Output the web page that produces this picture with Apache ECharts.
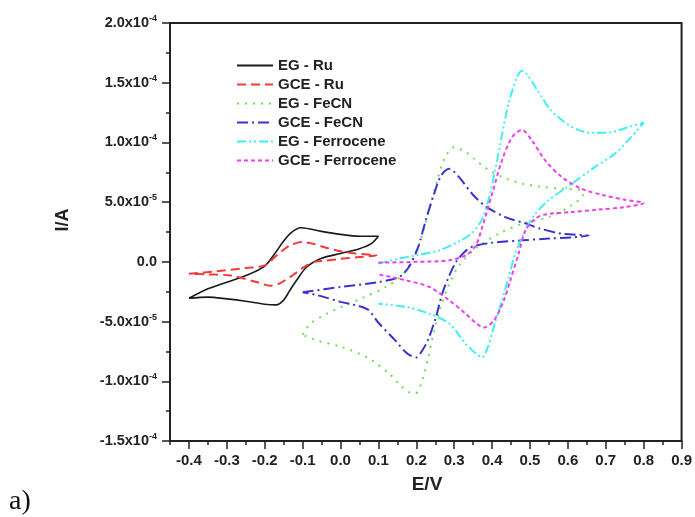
<!DOCTYPE html>
<html><head><meta charset="utf-8">
<script src="https://cdn.jsdelivr.net/npm/echarts@6/dist/echarts.min.js"></script>
<style>html,body{margin:0;padding:0;background:#fff}#c{width:695px;height:517px}</style>
</head><body><div id="c"></div>
<script>
// Potential E (V) and current I (in units of 1e-5 A)
const seriesNames = ['EG - Ru','GCE - Ru','EG - FeCN','GCE - FeCN','EG - Ferrocene','GCE - Ferrocene'];

const egRuE = [-0.40,-0.35,-0.30,-0.25,-0.20,-0.17,-0.15,-0.13,-0.105,-0.08,-0.05,0.00,0.05,0.10, 0.08,0.05,0.00,-0.05,-0.09,-0.115,-0.135,-0.15,-0.17,-0.20,-0.25,-0.30,-0.35,-0.40];
const egRuI = [-3.05,-2.25,-1.7,-1.15,-0.35,0.85,1.75,2.45,2.85,2.75,2.55,2.3,2.15,2.15, 1.5,1.1,0.7,0.3,-0.45,-1.5,-2.45,-3.2,-3.6,-3.55,-3.3,-3.1,-2.95,-3.05];

const gceRuE = [-0.40,-0.33,-0.25,-0.20,-0.17,-0.135,-0.10,-0.07,-0.045,0.00,0.04,0.095, 0.05,0.00,-0.04,-0.07,-0.10,-0.125,-0.16,-0.185,-0.22,-0.29,-0.35,-0.40];
const gceRuI = [-1.0,-0.8,-0.52,-0.3,0.5,1.35,1.66,1.5,1.25,0.88,0.69,0.54, 0.4,0.25,0.1,0.0,-0.5,-1.1,-1.8,-2.0,-1.7,-1.15,-1.05,-1.0];

const egFeCNE = [-0.10,-0.08,-0.04,0.00,0.06,0.12,0.16,0.19,0.215,0.235,0.255,0.275,0.30,0.33,0.35,0.39,0.435,0.48,0.525,0.59,0.635,0.64, 0.61,0.55,0.48,0.42,0.36,0.315,0.285,0.262,0.245,0.23,0.215,0.198,0.18,0.16,0.13,0.07,0.00,-0.06,-0.10];
const egFeCNI = [-6.1,-5.2,-4.4,-3.8,-3.0,-2.1,-1.2,0.2,2.2,4.5,6.8,8.7,9.6,9.2,8.7,7.7,7.0,6.55,6.3,6.1,6.0,5.6, 4.75,3.75,3.2,2.4,1.2,-0.2,-2.0,-4.0,-6.0,-8.2,-10.0,-11.0,-10.9,-10.4,-9.4,-8.0,-7.1,-6.6,-6.1];

const gceFeCNE = [-0.10,0.00,0.10,0.155,0.18,0.205,0.225,0.245,0.265,0.287,0.31,0.35,0.385,0.435,0.49,0.525,0.585,0.655, 0.61,0.55,0.48,0.40,0.35,0.33,0.305,0.285,0.268,0.252,0.23,0.21,0.20,0.185,0.17,0.145,0.10,0.07,0.00,-0.06,-0.10];
const gceFeCNI = [-2.55,-2.1,-1.7,-1.25,-0.45,1.25,3.5,5.5,7.2,7.8,7.2,5.6,4.6,3.75,3.2,2.8,2.35,2.2, 2.05,1.95,1.8,1.6,1.3,0.9,0.0,-1.3,-2.7,-4.6,-6.6,-7.7,-8.0,-7.85,-7.5,-6.6,-5.1,-3.95,-3.35,-2.8,-2.55];

const egFcE = [0.10,0.155,0.20,0.26,0.31,0.345,0.372,0.39,0.408,0.425,0.443,0.465,0.479,0.492,0.52,0.555,0.61,0.663,0.715,0.76,0.80, 0.767,0.724,0.671,0.61,0.549,0.514,0.488,0.461,0.444,0.426,0.405,0.388,0.374,0.36,0.33,0.287,0.234,0.173,0.10];
const egFcI = [-0.15,0.27,0.55,0.96,1.66,2.36,3.47,5.15,7.66,10.44,13.2,15.4,16.0,15.7,14.35,12.7,11.3,10.8,10.85,11.3,11.65, 10.44,9.06,7.93,6.54,5.15,4.03,2.64,0.69,-1.27,-3.22,-5.4,-7.2,-8.0,-7.75,-6.85,-5.17,-4.34,-3.78,-3.5];

const gceFcE = [0.10,0.20,0.287,0.33,0.357,0.374,0.40,0.426,0.453,0.479,0.505,0.54,0.584,0.636,0.697,0.75,0.80, 0.75,0.68,0.61,0.54,0.514,0.488,0.47,0.448,0.431,0.405,0.378,0.36,0.33,0.287,0.234,0.173,0.10];
const gceFcI = [-0.07,0.0,0.13,0.54,1.38,2.92,5.7,8.5,10.44,11.05,10.17,8.5,7.1,6.12,5.56,5.2,4.92, 4.59,4.37,4.17,3.97,3.61,2.64,0.69,-1.55,-3.22,-4.9,-5.5,-5.2,-4.34,-3.22,-2.1,-1.55,-1.05];

const xTickLabels = ['-0.4','-0.3','-0.2','-0.1','0.0','0.1','0.2','0.3','0.4','0.5','0.6','0.7','0.8','0.9'];
const yTickBase = ['-1.5x10','-1.0x10','-5.0x10','0.0','5.0x10','1.0x10','1.5x10','2.0x10'];
const yTickExp  = ['-4','-4','-5','','-5','-4','-4','-4'];

const colors = ['#1a1a1a','#f23a3a','#72dc50','#3a32d0','#3ff0f0','#ee3fee'];
const dashes = ['solid',[9,5],[2,6],[11,4,2,4],[9,3,2,3,2,3],[4,3]];
const widths = [1.6,2,2,2,2,2];

const pairs = [[egRuE,egRuI],[gceRuE,gceRuI],[egFeCNE,egFeCNI],[gceFeCNE,gceFeCNI],[egFcE,egFcI],[gceFcE,gceFcI]];

const FONT = 'Liberation Sans, Arial, sans-serif';
const chart = echarts.init(document.getElementById('c'));
chart.setOption({
  backgroundColor:'#fff',
  animation:false,
  grid:{left:170,right:11,top:23,bottom:76,show:true,borderColor:'#222',borderWidth:2,backgroundColor:'transparent'},
  legend:{
    orient:'vertical', left:236, top:58, padding:0, itemWidth:36, itemHeight:10, itemGap:4,
    data:seriesNames,
    itemStyle:{opacity:0,color:'transparent',borderWidth:0},
    textStyle:{fontSize:15,fontWeight:'bold',color:'#222',fontFamily:FONT}
  },
  xAxis:[
    {type:'value',min:-0.45,max:0.9,interval:0.05,position:'bottom',
     axisLine:{show:true,onZero:false,lineStyle:{color:'#222',width:2}},
     axisTick:{show:true,length:4,lineStyle:{color:'#222',width:1.5}},
     axisLabel:{show:false},splitLine:{show:false}},
    {type:'value',min:-0.45,max:0.9,splitNumber:13,position:'bottom',
     axisLine:{show:false,onZero:false},
     axisTick:{show:true,length:8,lineStyle:{color:'#222',width:1.5}},
     axisLabel:{show:true,margin:12,fontSize:15,fontWeight:'bold',color:'#222',fontFamily:FONT,showMinLabel:false,
       formatter:function(v){const i=Math.round((v+0.4)/0.1);return (i>=0&&i<xTickLabels.length)?xTickLabels[i]:'';}},
     splitLine:{show:false}}
  ],
  yAxis:{type:'value',min:-15,max:20,interval:5,
    axisLine:{show:true,onZero:false,lineStyle:{color:'#222',width:2}},
    axisTick:{show:true,length:8,lineStyle:{color:'#222',width:1.5}},
    minorTick:{show:true,splitNumber:2,length:4,lineStyle:{color:'#222',width:1.5}},
    splitLine:{show:false},
    axisLabel:{margin:13,color:'#222',
      formatter:function(v){const i=Math.round((v+15)/5);const b=yTickBase[i],e=yTickExp[i];return e?'{m|'+b+'}{s|'+e+'}':'{m|'+b+'}';},
      rich:{m:{fontSize:14.5,fontWeight:'bold',color:'#222',fontFamily:FONT,lineHeight:18},
            s:{fontSize:9,fontWeight:'bold',color:'#222',fontFamily:FONT,verticalAlign:'top',lineHeight:10}}}
  },
  graphic:[
    {type:'text',x:63,y:220,rotation:Math.PI/2,style:{text:'I/A',fontSize:18,fontWeight:'bold',fontFamily:FONT,fill:'#222',textAlign:'center',textVerticalAlign:'middle'}},
    {type:'text',x:427,y:485,style:{text:'E/V',fontSize:19,fontWeight:'bold',fontFamily:FONT,fill:'#222',textAlign:'center',textVerticalAlign:'middle'}},
    {type:'text',x:9,y:502,style:{text:'a)',fontSize:28,fontFamily:'Liberation Serif, Times New Roman, serif',fill:'#111',textAlign:'left',textVerticalAlign:'middle'}}
  ],
  series: pairs.map(function(p,k){
    return {name:seriesNames[k],type:'line',xAxisIndex:0,yAxisIndex:0,
      data:p[0].map(function(e,j){return [e,p[1][j]];}),
      showSymbol:false,symbol:'none',smooth:0.3,
      lineStyle:{color:colors[k],width:widths[k],type:dashes[k]},
      itemStyle:{color:colors[k]}};
  })
});
</script></body></html>
